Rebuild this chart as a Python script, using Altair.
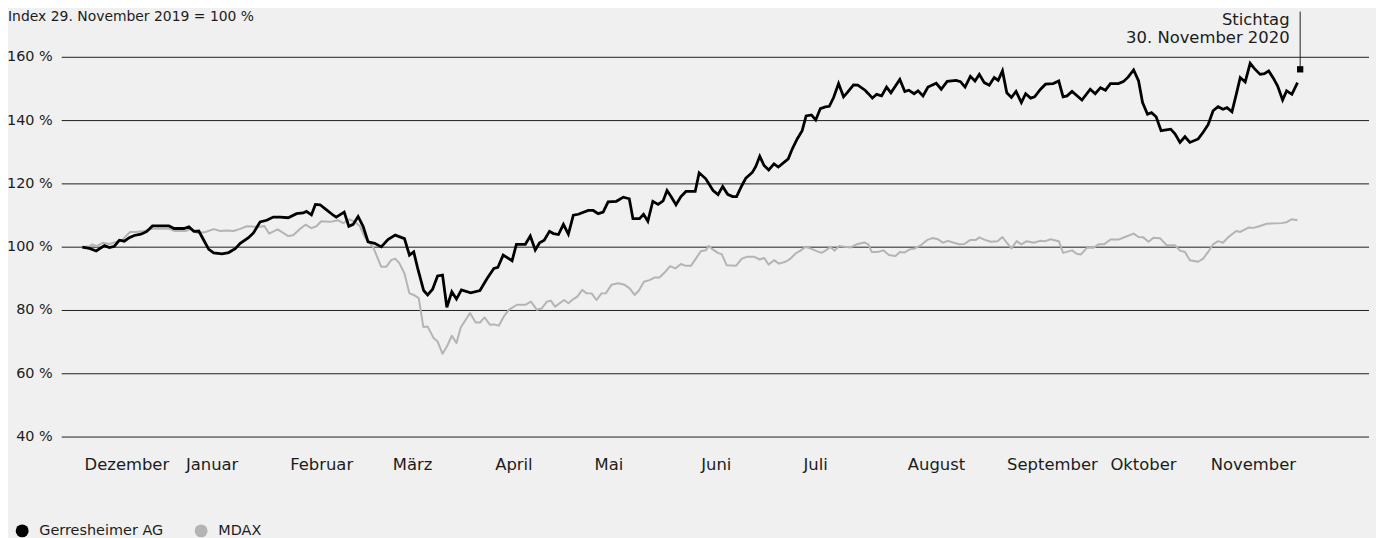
import altair as alt
import pandas as pd

# ---------------- data ----------------
# day offset since 29 Nov 2019, index value in % (29 Nov 2019 = 100)
gx_days = [0, 2.2, 4.2, 6.7, 8.2, 9.7, 11.2, 12.7, 14.2, 15.7, 17.7, 19.4, 21.2, 26.2, 27.7,
           30.7, 32.2, 33.7, 35.2, 36.7, 38.2, 39.7, 42.2, 44.2, 46.2, 47.7, 50.2, 51.7, 53.7,
           55.7, 57.7, 59.7, 62.2, 64.7, 66.7, 67.7, 69.2, 70.4, 71.8, 73.3, 75.8, 76.7, 79.1,
           80.5, 81.8, 83.3, 84.8, 86.3, 88.3, 90.3, 92.3, 94.5, 97.3, 98.8, 100.1, 101.3,
           103.1, 104.3, 105.8, 107.3, 108.8, 110.1, 111.6, 113.0, 114.5, 117.3, 120.1, 122.3,
           124.3, 125.5, 127.1, 129.8, 131.1, 133.8, 135.3, 136.8, 138.1, 139.5, 141.1, 142.3,
           143.8, 145.3, 146.8, 148.3, 149.8, 152.8, 154.3, 155.8, 157.3, 158.8, 161.3, 163.4,
           165.2, 166.3, 168.3, 169.5, 170.8, 172.3, 173.9, 175.4, 176.6, 177.8, 179.3, 180.8,
           182.3, 185.1, 186.3, 188.3, 190.5, 192.0, 193.4, 194.9, 196.4, 197.6, 199.2, 200.4,
           202.4, 203.4, 204.6, 205.9, 207.3, 208.9, 210.2, 213.2, 214.4, 215.9, 217.4, 218.6,
           220.2, 221.5, 222.9, 224.4, 225.6, 226.9, 228.4, 229.9, 231.2, 232.9, 234.2, 236.4,
           237.4, 238.6, 239.9, 241.4, 242.9, 244.2, 246.9, 248.4, 249.6, 251.2, 252.4, 253.9,
           255.4, 257.9, 259.4, 261.2, 263.9, 265.2, 266.6, 268.2, 269.6, 270.9, 272.4, 273.9,
           275.4, 276.6, 277.9, 279.2, 280.6, 282.0, 283.6, 284.9, 286.4, 287.6, 289.4, 290.9,
           293.2, 294.9, 296.2, 297.4, 298.9, 301.9, 304.4, 305.9, 307.5, 309.0, 310.5, 312.9,
           314.4, 315.9, 317.5, 319.0, 320.2, 321.7, 322.9, 324.3, 325.8, 328.7, 330.0, 331.5,
           333.0, 334.5, 337.0, 338.5, 340.0, 341.5, 343.0, 344.5, 345.7, 347.2, 348.5, 349.7,
           351.2, 352.7, 354.0, 355.7, 357.0, 358.3, 359.7, 361.0, 362.5, 363.7, 365.3, 367.0]
gx_vals = [100, 99.6, 98.8, 100.5, 99.9, 100.3, 102.2, 101.9, 103.0, 103.7, 104.1, 104.9, 106.7,
           106.7, 105.9, 105.9, 106.4, 105.0, 105.1, 102.2, 99.3, 98.2, 97.9, 98.3, 99.5, 101.2,
           103.0, 104.5, 108.0, 108.5, 109.5, 109.5, 109.3, 110.6, 110.8, 111.3, 110.2, 113.5,
           113.4, 112.2, 110.1, 109.5, 111.1, 106.6, 107.2, 109.7, 106.6, 101.7, 101.2, 100.1,
           102.4, 103.8, 102.7, 97.5, 98.5, 93.3, 86.3, 84.9, 86.7, 90.9, 91.2, 81.0, 85.9, 83.6,
           86.5, 85.6, 86.3, 90.2, 93.3, 93.6, 97.5, 95.7, 100.9, 100.9, 103.5, 99.1, 101.4,
           102.2, 105.0, 104.3, 104.0, 107.2, 104.1, 110.1, 110.4, 111.6, 111.6, 110.6, 111.1,
           114.3, 114.5, 115.8, 115.3, 109.0, 109.0, 110.4, 108.2, 114.5, 113.5, 114.6, 117.9,
           116.0, 113.4, 116.0, 117.6, 117.6, 123.5, 121.6, 117.9, 116.6, 119.2, 116.7, 116.0,
           116.0, 119.5, 121.8, 123.7, 125.5, 128.7, 125.8, 124.4, 126.3, 125.3, 127.9, 131.0,
           134.2, 136.8, 141.5, 141.8, 140.2, 143.8, 144.3, 144.5, 147.3, 151.7, 147.5, 149.1,
           151.3, 151.2, 149.6, 148.5, 147.1, 148.3, 147.8, 150.6, 148.8, 153.0, 149.2, 149.6,
           148.5, 149.4, 147.8, 150.6, 151.8, 149.9, 152.4, 152.7, 152.3, 150.6, 154.0, 152.5,
           154.6, 152.0, 151.2, 153.6, 152.7, 155.7, 148.8, 147.3, 149.2, 145.7, 148.5, 147.1,
           147.5, 149.9, 151.5, 151.7, 152.5, 147.5, 147.8, 149.2, 146.5, 149.9, 148.5, 150.4,
           149.6, 151.7, 151.7, 152.3, 153.8, 156.0, 152.5, 145.7, 142.0, 142.5, 141.2, 136.8,
           137.3, 135.8, 133.1, 134.9, 133.1, 134.2, 136.3, 138.7, 143.1, 144.4, 143.6, 144.1,
           142.8, 148.3, 153.6, 152.2, 158.1, 156.4, 154.6, 154.8, 155.7, 153.4, 150.9, 146.5,
           149.4, 148.3, 152.0]

md_days = [0, 2.2, 3.0, 4.4, 6.2, 8.2, 10.0, 12.2, 14.4, 16.2, 18.7, 21.2, 26.2, 28.0, 31.2,
           32.7, 34.7, 37.2, 39.7, 41.7, 43.7, 45.7, 47.7, 49.7, 53.2, 55.0, 56.4, 59.0, 62.2,
           63.7, 65.8, 67.4, 69.2, 70.7, 72.2, 74.8, 77.3, 78.8, 80.8, 82.3, 83.8, 85.3, 86.8,
           87.8, 90.3, 91.8, 93.3, 94.5, 95.8, 97.3, 98.8, 100.1, 101.6, 103.0, 104.3, 106.1,
           107.3, 108.8, 110.1, 111.6, 113.0, 114.3, 117.1, 118.8, 120.1, 121.5, 123.1, 124.3,
           125.8, 127.3, 128.8, 131.3, 133.8, 135.5, 137.3, 138.8, 140.3, 141.5, 142.8, 145.5,
           146.8, 148.3, 149.5, 151.0, 152.3, 153.8, 155.3, 156.8, 158.1, 159.8, 161.8, 163.8,
           165.3, 166.8, 168.1, 169.6, 171.3, 172.8, 174.3, 175.8, 177.5, 179.1, 180.8, 182.3,
           183.8, 185.3, 186.8, 188.3, 189.2, 190.4, 191.9, 193.1, 194.6, 197.4, 199.2, 200.9,
           202.8, 204.6, 205.9, 207.3, 208.9, 210.4, 212.4, 213.9, 215.4, 216.9, 218.4, 219.9,
           221.4, 223.2, 224.6, 225.9, 227.2, 228.6, 230.2, 231.9, 233.9, 236.2, 237.4, 238.4,
           240.2, 241.9, 243.6, 245.6, 246.9, 248.2, 249.9, 251.4, 253.2, 255.4, 256.9, 258.6,
           259.9, 261.4, 263.2, 264.9, 266.4, 268.2, 269.9, 270.9, 272.4, 274.4, 276.4, 277.9,
           279.2, 280.6, 282.2, 283.6, 285.2, 287.4, 289.2, 290.9, 292.4, 294.9, 296.2, 298.9,
           300.3, 301.6, 303.4, 305.4, 306.9, 308.6, 310.5, 312.9, 314.9, 317.5, 319.0, 320.4,
           322.0, 323.5, 325.5, 327.5, 330.0, 331.5, 333.0, 334.5, 337.0, 338.5, 340.0, 341.5,
           343.0, 344.5, 346.0, 348.5, 349.7, 352.2, 353.7, 355.7, 357.7, 362.2, 363.7, 365.2,
           367.0]
md_vals = [100, 100.3, 100.9, 100.3, 101.4, 101.0, 101.6, 102.4, 104.8, 104.8, 105.1, 105.8,
           105.8, 105.1, 105.1, 105.8, 104.5, 104.8, 105.7, 105.1, 105.3, 105.1, 105.8, 106.6,
           106.4, 106.7, 104.3, 105.6, 103.5, 103.8, 105.8, 107.1, 106.0, 106.6, 108.2, 108.0,
           108.5, 107.6, 108.8, 108.0, 106.7, 103.2, 101.2, 100.1, 93.8, 93.8, 95.9, 96.4, 94.9,
           91.7, 85.4, 84.9, 83.9, 74.8, 74.9, 71.3, 70.2, 66.3, 68.6, 72.0, 69.7, 74.6, 79.2,
           76.2, 76.2, 77.8, 75.5, 75.6, 75.2, 78.1, 80.2, 81.8, 81.8, 82.8, 80.2, 80.7, 82.8,
           83.1, 81.2, 83.3, 82.3, 83.6, 84.4, 86.5, 85.4, 85.4, 83.3, 85.4, 85.4, 88.1, 88.6,
           88.1, 87.0, 84.9, 86.3, 89.1, 89.6, 90.4, 90.4, 91.9, 94.0, 93.3, 94.7, 94.1, 94.1,
           96.4, 98.7, 99.0, 100.4, 99.3, 98.2, 97.8, 94.3, 94.1, 96.4, 97.0, 97.0, 96.1, 96.6,
           94.5, 95.9, 94.8, 95.4, 96.4, 98.0, 98.9, 100.1, 99.6, 98.9, 98.2, 99.0, 100.1, 98.9,
           100.4, 100.1, 99.9, 100.9, 101.5, 100.9, 98.5, 98.5, 99.0, 97.5, 97.2, 98.5, 98.3,
           99.3, 99.6, 100.6, 102.4, 102.9, 102.4, 101.4, 102.0, 101.4, 100.9, 101.0, 102.3,
           102.3, 103.1, 102.4, 101.7, 101.9, 103.2, 101.4, 99.6, 101.9, 100.9, 101.9, 101.4,
           102.0, 101.9, 102.5, 101.9, 98.2, 99.0, 97.9, 97.7, 99.8, 99.8, 100.9, 100.9, 102.4,
           102.4, 103.2, 104.3, 103.2, 103.1, 101.7, 103.0, 102.8, 100.6, 100.6, 98.9, 98.5,
           95.9, 95.4, 96.4, 98.5, 100.9, 101.9, 101.4, 103.1, 105.1, 104.8, 106.2, 106.1, 106.7,
           107.4, 107.6, 107.9, 108.8, 108.5]

series_names = ["Gerresheimer AG", "MDAX"]
series_colors = ["#000000", "#b4b4b4"]

y_ticks = [40, 60, 80, 100, 120, 140, 160]
y_tick_labels = ["40 %", "60 %", "80 %", "100 %", "120 %", "140 %", "160 %"]

months = ["Dezember", "Januar", "Februar", "März", "April", "Mai", "Juni", "Juli",
          "August", "September", "Oktober", "November"]
month_days = [0.7, 31.3, 62.8, 93.8, 124.7, 154.7, 186.9, 217.8, 249.3, 279.3, 310.5, 340.8]

title_text = "Index 29. November 2019 = 100 %"
stichtag_lines = ["Stichtag", "30. November 2020"]
stichtag_day = 367.8
stichtag_value = 156.2

# ---------------- layout / style constants ----------------
FONT = "DejaVu Sans"
TXT = "#1c1c1c"
BG = "#eff0ef"
W, H = 1376, 540
X_DOMAIN = [-22.43, 390.7]
Y_DOMAIN = [5.44, 175.08]
GRID_FROM, GRID_TO = -6.2, 388.6
YLAB_X = -8.9
MONTH_Y = 29.6
STICH_TXT_X = 364.6
STICH_TXT_Y = [170.05, 164.5]
STICH_TOP = 174.45

xs = alt.Scale(domain=X_DOMAIN, nice=False, zero=False)
ys = alt.Scale(domain=Y_DOMAIN, nice=False, zero=False)
col_scale = alt.Scale(domain=series_names, range=series_colors)

df_gx = pd.DataFrame({"day": gx_days, "value": gx_vals, "series": series_names[0]})
df_md = pd.DataFrame({"day": md_days, "value": md_vals, "series": series_names[1]})
df_all = pd.concat([df_gx, df_md], ignore_index=True)

df_grid = pd.DataFrame({"v": y_ticks, "label": y_tick_labels,
                        "x0": GRID_FROM, "x1": GRID_TO, "lx": YLAB_X})
df_month = pd.DataFrame({"day": month_days, "name": months, "v": MONTH_Y})
df_stich_txt = pd.DataFrame({"day": STICH_TXT_X, "v": STICH_TXT_Y, "t": stichtag_lines})
df_stich = pd.DataFrame({"day": [stichtag_day], "v": [stichtag_value], "top": [STICH_TOP]})

X = alt.X("day:Q", scale=xs, axis=None)

grid = alt.Chart(df_grid).mark_rule(color="#1e1e1e", strokeWidth=1).encode(
    x=alt.X("x0:Q", scale=xs, axis=None), x2="x1:Q",
    y=alt.Y("v:Q", scale=ys, axis=None))

ylabels = alt.Chart(df_grid).mark_text(
    align="right", baseline="middle", font=FONT, fontSize=14.5, color=TXT).encode(
    x=alt.X("lx:Q", scale=xs, axis=None), y=alt.Y("v:Q", scale=ys, axis=None), text="label:N")

mlabels = alt.Chart(df_month).mark_text(
    align="left", baseline="alphabetic", font=FONT, fontSize=16.5, color=TXT).encode(
    x=X, y=alt.Y("v:Q", scale=ys, axis=None), text="name:N")

line_md = alt.Chart(df_md).mark_line(strokeWidth=2, color=series_colors[1],
                                     strokeJoin="round").encode(
    x=X, y=alt.Y("value:Q", scale=ys, axis=None))

line_gx = alt.Chart(df_gx).mark_line(strokeWidth=2.8, color=series_colors[0],
                                     strokeJoin="miter").encode(
    x=X, y=alt.Y("value:Q", scale=ys, axis=None))

legend_layer = alt.Chart(df_all).mark_circle(size=0, opacity=1).encode(
    x=X, y=alt.Y("value:Q", scale=ys, axis=None),
    color=alt.Color("series:N", scale=col_scale, legend=alt.Legend(
        title=None, orient="none", legendX=7, legendY=517, direction="horizontal",
        symbolType="circle", symbolSize=169, symbolStrokeWidth=0, symbolOpacity=1,
        labelFont=FONT, labelFontSize=14.5, labelColor=TXT, labelOffset=10,
        columnPadding=30, padding=0)))

stich_rule = alt.Chart(df_stich).mark_rule(color="#222222", strokeWidth=1).encode(
    x=X, y=alt.Y("v:Q", scale=ys, axis=None), y2="top:Q")
stich_pt = alt.Chart(df_stich).mark_point(shape="square", filled=True, size=40,
                                          color="#000000", opacity=1).encode(
    x=X, y=alt.Y("v:Q", scale=ys, axis=None))
stich_txt = alt.Chart(df_stich_txt).mark_text(
    align="right", baseline="alphabetic", font=FONT, fontSize=16.5, color=TXT).encode(
    x=X, y=alt.Y("v:Q", scale=ys, axis=None), text="t:N")

title = alt.Chart(pd.DataFrame({"t": [title_text]})).mark_text(
    align="left", baseline="top", font=FONT, fontSize=14, color=TXT).encode(
    x=alt.value(0), y=alt.value(0), text="t:N")

chart = alt.layer(
    grid, ylabels, mlabels, line_md, line_gx, legend_layer,
    stich_rule, stich_pt, stich_txt, title
).properties(
    width=W, height=H, padding=0, autosize=alt.AutoSizeParams(type="none"),
    background=BG
).configure_view(stroke=None)

chart.save("out.html", embed_options={"renderer": "svg", "actions": False})
